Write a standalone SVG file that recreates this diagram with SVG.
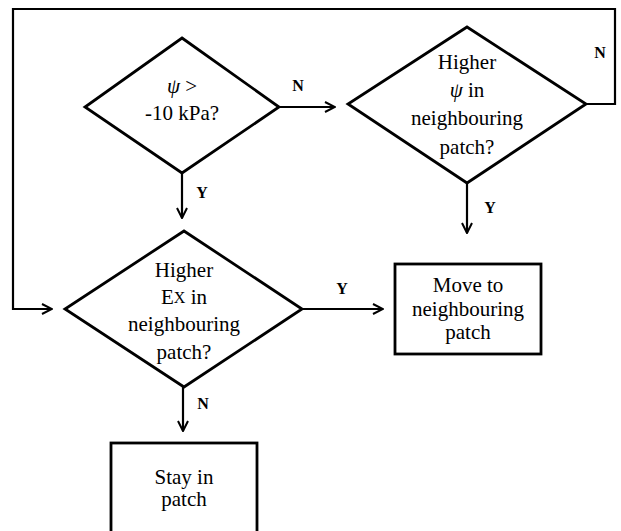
<svg xmlns="http://www.w3.org/2000/svg" width="621" height="531" viewBox="0 0 621 531">
<style>
.shape{fill:#fff;stroke:#000;stroke-width:2.8;stroke-linejoin:miter}
.con{fill:none;stroke:#000;stroke-width:2.2}
.t{font-family:"Liberation Serif","Times New Roman",serif;font-size:21px;fill:#000;text-anchor:middle;dominant-baseline:central}
.lbl{font-family:"Liberation Serif","Times New Roman",serif;font-size:16px;font-weight:bold;fill:#000;text-anchor:middle;dominant-baseline:central}
</style>
<defs>
<marker id="ah" viewBox="0 0 12 12" refX="11" refY="6" markerWidth="12" markerHeight="12" markerUnits="userSpaceOnUse" orient="auto">
<path d="M1,1 L11,6 L1,11" fill="none" stroke="#000" stroke-width="2"/>
</marker>
</defs>
<rect width="621" height="531" fill="#fff"/>
<g id="connectors">
<path class="con" d="M279,107 L335,107" marker-end="url(#ah)"/>
<path class="con" d="M182,173 L182,218" marker-end="url(#ah)"/>
<path class="con" d="M467,183 L467,233" marker-end="url(#ah)"/>
<path class="con" d="M302,309 L383,309" marker-end="url(#ah)"/>
<path class="con" d="M183,387 L183,431" marker-end="url(#ah)"/>
<path class="con" d="M586,104 L615,104 L615,9 L13,9 L13,309 L52,309" marker-end="url(#ah)"/>
<text class="lbl" x="298" y="85">N</text>
<text class="lbl" x="202" y="192">Y</text>
<text class="lbl" x="600" y="52">N</text>
<text class="lbl" x="490" y="207">Y</text>
<text class="lbl" x="342" y="288">Y</text>
<text class="lbl" x="203" y="403">N</text>
</g>
<g id="d1">
<polygon class="shape" points="182,38 279,107 182,173 85,107"/>
<text class="t" x="182" y="86"><tspan font-style="italic">ψ</tspan> &gt;</text>
<text class="t" x="182" y="113">-10 kPa?</text>
</g>
<g id="d2">
<polygon class="shape" points="467,27 586,104 467,183 348,104"/>
<text class="t" x="467" y="62">Higher</text>
<text class="t" x="467" y="90"><tspan font-style="italic">ψ</tspan> in</text>
<text class="t" x="467" y="118">neighbouring</text>
<text class="t" x="467" y="147">patch?</text>
</g>
<g id="d3">
<polygon class="shape" points="184,231 302,309 184,387 65,309"/>
<text class="t" x="184" y="270">Higher</text>
<text class="t" x="184" y="297">E<tspan font-size="16">X</tspan> in</text>
<text class="t" x="184" y="324">neighbouring</text>
<text class="t" x="184" y="352">patch?</text>
</g>
<g id="move">
<rect class="shape" x="395" y="264" width="146" height="90"/>
<text class="t" x="468" y="285">Move to</text>
<text class="t" x="468" y="309">neighbouring</text>
<text class="t" x="468" y="332">patch</text>
</g>
<g id="stay">
<rect class="shape" x="111" y="443" width="146" height="92"/>
<text class="t" x="184" y="477">Stay in</text>
<text class="t" x="184" y="499">patch</text>
</g>
</svg>
